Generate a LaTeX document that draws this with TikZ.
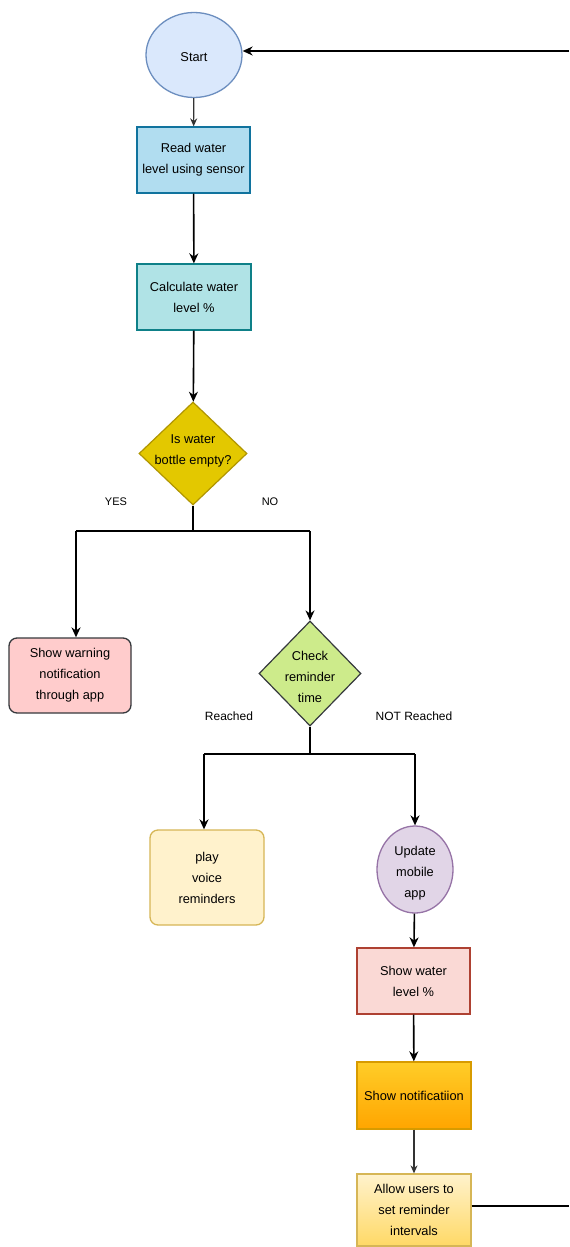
\documentclass[tikz,border=0pt]{standalone}
\usepackage{fontspec}
\setmainfont{Liberation Sans}
\usetikzlibrary{shapes.geometric,arrows.meta}
\definecolor{startfill}{HTML}{DAE8FC}\definecolor{startdraw}{HTML}{6C8EBF}
\definecolor{readfill}{HTML}{B1DDF0}\definecolor{readdraw}{HTML}{10739E}
\definecolor{calcfill}{HTML}{B0E3E6}\definecolor{calcdraw}{HTML}{0E8088}
\definecolor{d1fill}{HTML}{E3C800}\definecolor{d1draw}{HTML}{B09500}
\definecolor{warnfill}{HTML}{FFCCCC}\definecolor{darkdraw}{HTML}{36393D}
\definecolor{d2fill}{HTML}{CDEB8B}
\definecolor{playfill}{HTML}{FFF2CC}\definecolor{playdraw}{HTML}{D6B656}
\definecolor{updfill}{HTML}{E1D5E7}\definecolor{upddraw}{HTML}{9673A6}
\definecolor{swfill}{HTML}{FAD9D5}\definecolor{swdraw}{HTML}{AE4132}
\definecolor{ntop}{HTML}{FFCD28}\definecolor{nbot}{HTML}{FFA500}\definecolor{ndraw}{HTML}{D79B00}
\definecolor{atop}{HTML}{FFF2CC}\definecolor{abot}{HTML}{FFD966}
\begin{document}
\begin{tikzpicture}[x=1pt,y=-1pt,
  every node/.style={font=\fontsize{12.8}{21}\selectfont, align=center, inner sep=0pt},
  box/.style={rectangle, line width=1.3pt},
  rbox/.style={rectangle, rounded corners=8pt, line width=1.3pt},
  dia/.style={diamond, line width=1.2pt},
  ell/.style={ellipse, line width=1.3pt},
  lbl/.style={font=\fontsize{11}{13}\selectfont},
  thickarr/.style={line width=1.6pt, -{Stealth[length=10pt,width=9pt]}},
  thinarr/.style={line width=1.1pt, draw=black!80, -{Stealth[length=8pt,width=7pt]}},
  conn/.style={line width=1.6pt}
]
\path[fill=white] (0,0) rectangle (569,1247);
\node[ell, fill=startfill, draw=startdraw, minimum width=96pt, minimum height=85pt] (start) at (194,55) {};
\node at (194,57) {Start};
\node[box, fill=readfill, draw=readdraw, minimum width=113pt, minimum height=66pt] (read) at (193.5,160) {Read water\\level using sensor};
\node[box, fill=calcfill, draw=calcdraw, minimum width=114pt, minimum height=66pt] (calc) at (194,297) {Calculate water\\level \%};
\node[dia, fill=d1fill, draw=d1draw, minimum width=108pt, minimum height=103pt, label={[yshift=3pt]center:Is water\\bottle empty?}] (d1) at (193,453.5) {};
\node[lbl] (yes) at (116,502) {YES};
\node[lbl] (no) at (270,502) {NO};
\coordinate (j1) at (193,531);
\coordinate (j1l) at (76,531);
\coordinate (j1r) at (310,531);
\node[rbox, fill=warnfill, draw=darkdraw, minimum width=122pt, minimum height=75pt] (warn) at (70,675.5) {Show warning\\notification\\through app};
\node[dia, fill=d2fill, draw=darkdraw, minimum width=102pt, minimum height=105pt, label={[yshift=-3pt]center:Check\\reminder\\time}] (d2) at (310,673.5) {};
\node[lbl, font=\fontsize{12}{14}\selectfont] (reached) at (229,716) {Reached};
\node[lbl, font=\fontsize{12}{14}\selectfont] (notreached) at (414,716) {NOT Reached};
\coordinate (j2) at (310,754);
\coordinate (j2l) at (204,754);
\coordinate (j2r) at (415,754);
\node[rbox, fill=playfill, draw=playdraw, minimum width=114pt, minimum height=95pt] (play) at (207,877.5) {play\\voice\\reminders};
\node[ell, fill=updfill, draw=upddraw, minimum width=76pt, minimum height=87pt, label={[yshift=-4pt]center:Update\\mobile\\app}] (upd) at (415,869.5) {};
\node[box, fill=swfill, draw=swdraw, minimum width=113pt, minimum height=66pt] (sw) at (413.5,981) {Show water\\level \%};
\node[box, top color=ntop, bottom color=nbot, draw=ndraw, minimum width=114pt, minimum height=67pt] (notif) at (414,1095.5) {Show notificatiion};
\node[box, top color=atop, bottom color=abot, draw=playdraw, minimum width=114pt, minimum height=72pt] (allow) at (414,1210) {Allow users to\\set reminder\\intervals};
\coordinate (rb) at (569,1206);
\coordinate (rt) at (569,51);
% connectors
\draw[thinarr] (start) -- (read);
\draw[thickarr] (read) -- (calc);
\draw[thickarr] (calc) -- (d1);
\draw[conn] (d1.south) -- (j1);
\draw[conn] (j1l) -- (j1r);
\draw[thickarr] (j1l) -- (warn.north -| j1l);
\draw[thickarr] (j1r) -- (d2.north);
\draw[conn] (d2.south) -- (j2);
\draw[conn] (j2l) -- (j2r);
\draw[thickarr] (j2l) -- (play.north -| j2l);
\draw[thickarr] (j2r) -- (upd.north);
\draw[thickarr] (upd) -- (sw);
\draw[thickarr] (sw) -- (notif);
\draw[thinarr] (notif) -- (allow);
\draw[conn] (allow.east |- rb) -- (rb);
\draw[thickarr] (rt) -- (start.east |- rt);
\end{tikzpicture}
\end{document}
